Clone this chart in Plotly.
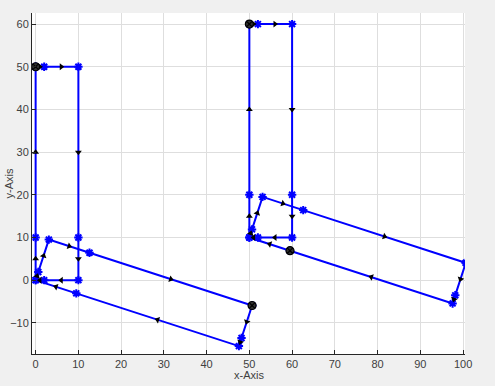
import numpy as np
import plotly.graph_objects as go

# Left group: rectangle path and its rotated copy
rect1_x = [0, 2, 10, 10, 10, 2, 0, 0, 0]
rect1_y = [50, 50, 50, 10, 0, 0, 0, 10, 50]
rot1_x = [50.64, 48.17, 47.55, 9.51, 0.00, 0.62, 3.09, 12.60, 50.64]
rot1_y = [-5.94, -13.55, -15.45, -3.09, 0.00, 1.90, 9.51, 6.42, -5.94]

# Right group
rect2_x = [50, 52, 60, 60, 60, 52, 50, 50, 50]
rect2_y = [60, 60, 60, 20, 10, 10, 10, 20, 60]
rot2_x = [100.64, 98.17, 97.55, 59.51, 50.00, 50.62, 53.09, 62.60, 100.64]
rot2_y = [4.06, -3.55, -5.45, 6.91, 10.00, 11.90, 19.51, 16.42, 4.06]

# Start points (circles)
start_x = [0, 50.64, 50, 59.51]
start_y = [50, -5.94, 60, 6.91]

x_ticks = [0, 10, 20, 30, 40, 50, 60, 70, 80, 90, 100]
y_ticks = [-10, 0, 10, 20, 30, 40, 50, 60]

BLUE = "#0000ff"
FONT = "Liberation Sans, Arial"
TXT = "#404040"
fig = go.Figure()

paths = [(rect1_x, rect1_y), (rot1_x, rot1_y), (rect2_x, rect2_y), (rot2_x, rot2_y)]
ax, ay, aa = [], [], []
for px, py in paths:
    fig.add_trace(go.Scatter(
        x=px, y=py, mode="lines+markers",
        line=dict(color=BLUE, width=2),
        marker=dict(symbol="asterisk-open", size=7, color=BLUE,
                    line=dict(color=BLUE, width=2)),
        showlegend=False, hoverinfo="skip"))
    xs = np.array(px, dtype=float)
    ys = np.array(py, dtype=float)
    mx = (xs[:-1] + xs[1:]) / 2
    my = (ys[:-1] + ys[1:]) / 2
    ang = np.degrees(np.arctan2(ys[1:] - ys[:-1], xs[1:] - xs[:-1]))
    ax += list(mx)
    ay += list(my)
    aa += list(-ang)

fig.add_trace(go.Scatter(
    x=ax, y=ay, mode="markers",
    marker=dict(symbol="triangle-right", size=6, color="black", angle=aa,
                line=dict(width=0)),
    showlegend=False, hoverinfo="skip"))

fig.add_trace(go.Scatter(
    x=start_x, y=start_y, mode="markers",
    marker=dict(symbol="circle-x", size=8, color="#303030",
                line=dict(color="black", width=1.2)),
    showlegend=False, hoverinfo="skip"))

axis_common = dict(
    showgrid=True, gridcolor="#dedede", gridwidth=1, automargin=False,
    zeroline=False, showline=True, linecolor="#262626", linewidth=1,
    mirror=False, ticks="inside", ticklen=4, tickcolor="#262626",
    tickfont=dict(family=FONT, size=11, color=TXT),
)

fig.update_layout(
    width=495, height=386,
    paper_bgcolor="#f0f0f0", plot_bgcolor="white",
    margin=dict(l=32, r=30, t=13, b=32),
    xaxis=dict(range=[-0.85, 100.45], tickvals=x_ticks, **axis_common),
    yaxis=dict(range=[-17.3, 62.6], tickvals=y_ticks, **axis_common),
    annotations=[
        dict(text="x-Axis", xref="paper", yref="paper", x=0.5, y=0,
             xanchor="center", yanchor="middle", yshift=-21, showarrow=False,
             font=dict(family=FONT, size=11, color=TXT)),
        dict(text="y-Axis", xref="paper", yref="paper", x=0, y=0.5,
             xanchor="center", yanchor="middle", xshift=-24, textangle=-90,
             showarrow=False, font=dict(family=FONT, size=11, color=TXT)),
    ],
)

fig.write_html("out.html")
